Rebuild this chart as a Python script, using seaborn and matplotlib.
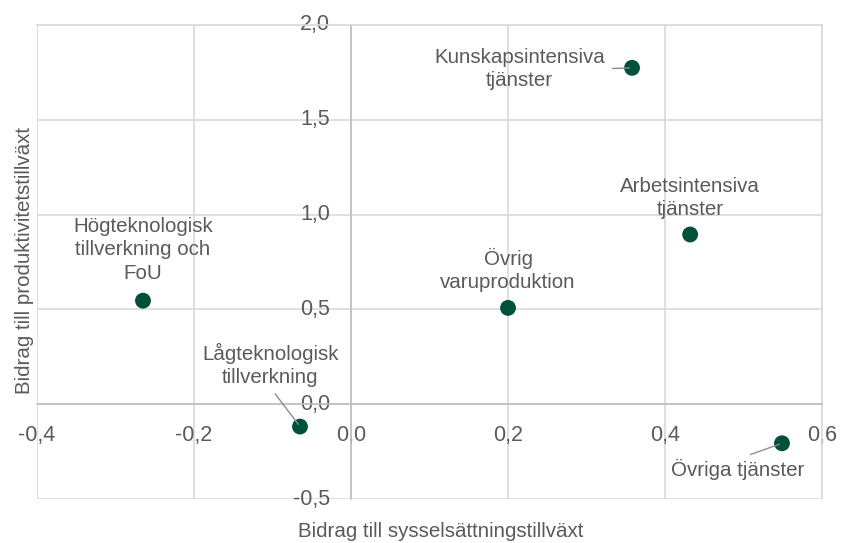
import matplotlib
matplotlib.use("Agg")
import matplotlib.pyplot as plt
import seaborn as sns
import pandas as pd

# Data
categories = ["Högteknologisk\ntillverkning och\nFoU", "Lågteknologisk\ntillverkning",
              "Övrig\nvaruproduktion", "Kunskapsintensiva\ntjänster",
              "Arbetsintensiva\ntjänster", "Övriga tjänster"]
employment = [-0.265, -0.065, 0.200, 0.358, 0.432, 0.549]
productivity = [0.546, -0.118, 0.508, 1.774, 0.895, -0.206]
label_x = [-0.265, -0.103, 0.200, 0.215, 0.432, 0.492]
label_y = [0.815, 0.207, 0.709, 1.769, 1.088, -0.346]
leader = [None, (0.5, 0.0), None, (1.0, 0.5), None, (0.5, 1.0)]
x_ticks = [-0.4, -0.2, 0.0, 0.2, 0.4, 0.6]
y_ticks = [-0.5, 0.0, 0.5, 1.0, 1.5, 2.0]

df = pd.DataFrame({"x": employment, "y": productivity, "cat": categories})

sns.set_theme(style="white")
plt.rcParams['font.family'] = ['Liberation Sans', 'DejaVu Sans']

TEXT = "#5a5a5a"
GRID = "#d9d9d9"
ZERO = "#bfbfbf"
POINT = "#00503c"

fig = plt.figure(figsize=(8.45, 5.43), dpi=100)
ax = fig.add_axes([0.0438, 0.081, 0.929, 0.873])

sns.scatterplot(data=df, x="x", y="y", ax=ax, color=POINT, s=130,
                edgecolor="none", zorder=5, legend=False)

ax.set_xlim(-0.4, 0.6)
ax.set_ylim(-0.5, 2.0)
ax.set_xticks(x_ticks)
ax.set_yticks(y_ticks)
ax.set_xticklabels([f"{v:.1f}".replace(".", ",") for v in x_ticks])
ax.set_yticklabels([f"{v:.1f}".replace(".", ",") for v in y_ticks])

ax.grid(True, color=GRID, linewidth=1.2, zorder=0)
ax.set_axisbelow(True)

for side in ["top", "right"]:
    ax.spines[side].set_color(GRID)
    ax.spines[side].set_linewidth(1.2)
ax.spines["left"].set_position(("data", 0))
ax.spines["bottom"].set_position(("data", 0))
ax.spines["left"].set_color(ZERO)
ax.spines["bottom"].set_color(ZERO)
ax.spines["left"].set_linewidth(1.2)
ax.spines["bottom"].set_linewidth(1.2)

ax.tick_params(axis="x", length=0, pad=15, labelsize=15.5, labelcolor=TEXT)
ax.tick_params(axis="y", length=0, pad=15, labelsize=15.5, labelcolor=TEXT)
for lbl in ax.get_yticklabels():
    lbl.set_verticalalignment("center")

ax.set_xlabel("")
ax.set_ylabel("")
fig.text(0.522, 0.003, "Bidrag till sysselsättningstillväxt", ha="center", va="bottom",
         fontsize=14.8, color=TEXT)
fig.text(0.029, 0.52, "Bidrag till produktivitetstillväxt", ha="center", va="center",
         rotation=90, fontsize=14.8, color=TEXT)

for i, cat in enumerate(categories):
    if leader[i] is None:
        ax.text(label_x[i], label_y[i], cat, ha="center", va="center",
                fontsize=14.8, color=TEXT, linespacing=1.3, zorder=6)
    else:
        ax.annotate(cat, xy=(employment[i], productivity[i]),
                    xytext=(label_x[i], label_y[i]), ha="center", va="center",
                    fontsize=14.8, color=TEXT, linespacing=1.3, zorder=6,
                    arrowprops=dict(arrowstyle="-", color="#8c8c8c", lw=1,
                                    relpos=leader[i], shrinkA=3, shrinkB=2))

fig.savefig("out.png", dpi=100)
